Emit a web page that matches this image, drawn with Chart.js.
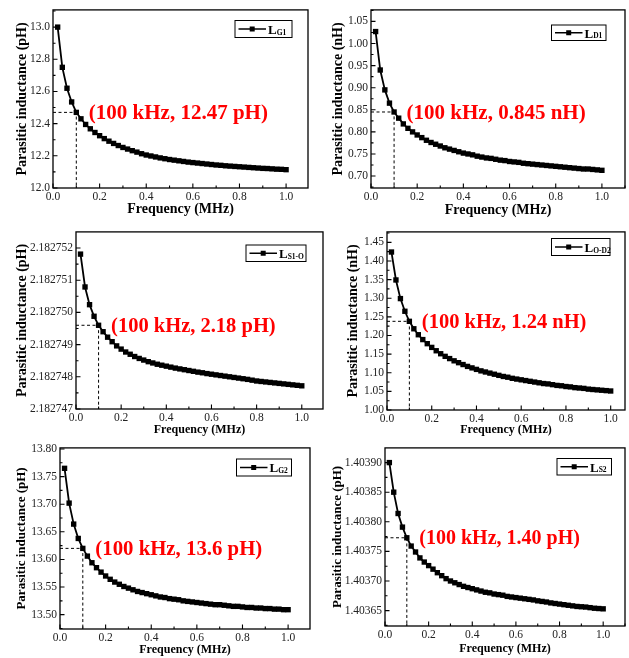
<!DOCTYPE html>
<html>
<head>
<meta charset="utf-8">
<script src="https://cdn.jsdelivr.net/npm/chart.js@4.4.1/dist/chart.umd.min.js"></script>
<style>
  body { margin: 0; background: #fff; }
  #wrap { position: relative; width: 629px; height: 658px; overflow: hidden; }
  canvas { position: absolute; }
</style>
</head>
<body>
<div id="wrap"></div>
<script>
// frecuencias (MHz)
const freq = [0.02, 0.04, 0.06, 0.08, 0.10, 0.12, 0.14, 0.16, 0.18, 0.20,
  0.22, 0.24, 0.26, 0.28, 0.30, 0.32, 0.34, 0.36, 0.38, 0.40,
  0.42, 0.44, 0.46, 0.48, 0.50, 0.52, 0.54, 0.56, 0.58, 0.60,
  0.62, 0.64, 0.66, 0.68, 0.70, 0.72, 0.74, 0.76, 0.78, 0.80,
  0.82, 0.84, 0.86, 0.88, 0.90, 0.92, 0.94, 0.96, 0.98, 1.00];

// series
const lG1 = [13.000, 12.750, 12.620, 12.535, 12.470, 12.430, 12.395, 12.368, 12.345, 12.325,
  12.307, 12.291, 12.277, 12.264, 12.252, 12.242, 12.232, 12.223, 12.213, 12.205,
  12.199, 12.193, 12.187, 12.182, 12.177, 12.173, 12.169, 12.165, 12.161, 12.158,
  12.155, 12.152, 12.149, 12.146, 12.143, 12.141, 12.138, 12.136, 12.134, 12.132,
  12.130, 12.128, 12.126, 12.124, 12.122, 12.121, 12.119, 12.117, 12.116, 12.114];
const lD1 = [1.027, 0.940, 0.895, 0.865, 0.845, 0.831, 0.818, 0.808, 0.800, 0.793,
  0.787, 0.781, 0.776, 0.772, 0.768, 0.764, 0.761, 0.758, 0.755, 0.752,
  0.750, 0.748, 0.745, 0.743, 0.741, 0.740, 0.738, 0.736, 0.735, 0.733,
  0.732, 0.731, 0.729, 0.728, 0.727, 0.726, 0.725, 0.724, 0.723, 0.722,
  0.721, 0.720, 0.719, 0.718, 0.717, 0.716, 0.716, 0.715, 0.714, 0.713];
const lS1O = [2.18275181, 2.18275079, 2.18275024, 2.18274988, 2.18274960, 2.18274940, 2.18274923, 2.18274909, 2.18274896, 2.18274886,
  2.18274877, 2.18274870, 2.18274863, 2.18274857, 2.18274852, 2.18274847, 2.18274843, 2.18274839, 2.18274836, 2.18274833,
  2.18274830, 2.18274827, 2.182748245, 2.18274822, 2.182748195, 2.18274817, 2.182748145, 2.182748125, 2.18274810, 2.18274808,
  2.18274806, 2.18274804, 2.18274802, 2.18274800, 2.18274798, 2.18274796, 2.18274794, 2.18274792, 2.182747895, 2.18274787,
  2.182747855, 2.18274784, 2.182747825, 2.18274781, 2.182747795, 2.18274778, 2.182747765, 2.18274775, 2.182747735, 2.18274772];
const lOD2 = [1.424, 1.349, 1.299, 1.265, 1.238, 1.218, 1.202, 1.189, 1.178, 1.168,
  1.159, 1.151, 1.144, 1.138, 1.132, 1.127, 1.122, 1.117, 1.113, 1.109,
  1.105, 1.102, 1.099, 1.096, 1.093, 1.090, 1.088, 1.085, 1.083, 1.081,
  1.079, 1.077, 1.075, 1.073, 1.071, 1.070, 1.068, 1.066, 1.065, 1.063,
  1.062, 1.060, 1.059, 1.058, 1.056, 1.055, 1.054, 1.053, 1.052, 1.051];
const lG2 = [13.765, 13.702, 13.664, 13.638, 13.620, 13.606, 13.594, 13.585, 13.577, 13.570,
  13.564, 13.559, 13.555, 13.551, 13.548, 13.545, 13.542, 13.540, 13.538, 13.536,
  13.534, 13.532, 13.531, 13.529, 13.528, 13.527, 13.525, 13.524, 13.523, 13.522,
  13.521, 13.520, 13.519, 13.518, 13.518, 13.517, 13.516, 13.515, 13.515, 13.514,
  13.513, 13.513, 13.512, 13.512, 13.511, 13.511, 13.510, 13.510, 13.509, 13.509];
const lS2 = [1.403900, 1.403850, 1.403814, 1.403791, 1.403773, 1.403759, 1.403749, 1.403739, 1.403732, 1.403726,
  1.403720, 1.403714, 1.403709, 1.403704, 1.403700, 1.403697, 1.403694, 1.403691, 1.403689, 1.403687,
  1.403685, 1.403683, 1.403681, 1.403680, 1.403678, 1.403677, 1.403676, 1.403674, 1.403673, 1.403672,
  1.403671, 1.403670, 1.403669, 1.403668, 1.4036665, 1.4036655, 1.4036645, 1.403663, 1.403662, 1.403661,
  1.403660, 1.403659, 1.403658, 1.403657, 1.4036565, 1.403656, 1.403655, 1.403654, 1.4036535, 1.403653];

// marcas de los ejes
const xTicks = [0.0, 0.2, 0.4, 0.6, 0.8, 1.0];
const yTicksG1 = [12.0, 12.2, 12.4, 12.6, 12.8, 13.0];
const yTicksD1 = [0.70, 0.75, 0.80, 0.85, 0.90, 0.95, 1.00, 1.05];
const yTicksS1O = [2.182747, 2.182748, 2.182749, 2.182750, 2.182751, 2.182752];
const yTicksOD2 = [1.00, 1.05, 1.10, 1.15, 1.20, 1.25, 1.30, 1.35, 1.40, 1.45];
const yTicksG2 = [13.50, 13.55, 13.60, 13.65, 13.70, 13.75, 13.80];
const yTicksS2 = [1.40365, 1.40370, 1.40375, 1.40380, 1.40385, 1.40390];

// textos
const legendSubs = ['G1', 'D1', 'S1-O', 'O-D2', 'G2', 'S2'];
const units = ['pH', 'nH', 'pH', 'nH', 'pH', 'pH'];
const notes = ['(100 kHz, 12.47 pH)', '(100 kHz, 0.845 nH)', '(100 kHz, 2.18 pH)',
  '(100 kHz, 1.24 nH)', '(100 kHz, 13.6 pH)', '(100 kHz, 1.40 pH)'];

const FONT = '"Liberation Serif", "Times New Roman", serif';

// geometria de cada panel (coordenadas de pagina)
const paneles = [
  { vals: lG1, yTicks: yTicksG1, dec: 1, ymin: 12.0, ymax: 13.107, xmax: 1.094,
    canvas: [0, 0, 318, 222], plot: [53, 5, 308, 188], yc: 22, xc: 209, ty: 14, tx: 14,
    legend: [235, 20.5, 292, 37.5], noteSize: 21 },
  { vals: lD1, yTicks: yTicksD1, dec: 2, ymin: 0.673, ymax: 1.076, xmax: 1.10,
    canvas: [318, 0, 311, 222], plot: [371, 5, 627, 188], yc: 338, xc: 210, ty: 14, tx: 14,
    legend: [551.5, 25, 606, 40.5], noteSize: 21 },
  { vals: lS1O, yTicks: yTicksS1O, dec: 6, ymin: 2.182747, ymax: 2.1827525, xmax: 1.094,
    canvas: [0, 222, 330, 216], plot: [76, 227, 323, 409], yc: 22, xc: 430, ty: 14, tx: 12,
    legend: [246, 245, 306, 261.5], noteSize: 20.5 },
  { vals: lOD2, yTicks: yTicksOD2, dec: 2, ymin: 1.00, ymax: 1.478, xmax: 1.064,
    canvas: [330, 222, 299, 216], plot: [387, 224, 625, 410], yc: 353, xc: 430, ty: 14, tx: 12,
    legend: [551.5, 238.5, 610, 255.5], noteSize: 20.5 },
  { vals: lG2, yTicks: yTicksG2, dec: 2, ymin: 13.474, ymax: 13.802, xmax: 1.096,
    canvas: [0, 438, 318, 220], plot: [60, 444, 310, 629], yc: 22, xc: 650, ty: 13, tx: 12,
    legend: [236.5, 459, 291.5, 476], noteSize: 20.8 },
  { vals: lS2, yTicks: yTicksS2, dec: 5, ymin: 1.403624, ymax: 1.4039248, xmax: 1.10,
    canvas: [318, 438, 311, 220], plot: [385, 444, 626, 626], yc: 338, xc: 649, ty: 13, tx: 12,
    legend: [557, 458.5, 611.5, 475], noteSize: 20 }
];

// marco, marcas hacia dentro, leyenda y anotacion
const decoracion = {
  id: 'decoracion',
  afterDraw(chart, args, opts) {
    const p = opts.panel;
    const ctx = chart.ctx;
    const a = chart.chartArea;
    const xs = chart.scales.x, ys = chart.scales.y;
    const ox = p.canvas[0], oy = p.canvas[1];
    ctx.save();
    ctx.strokeStyle = '#000';
    ctx.lineWidth = 1.3;
    ctx.strokeRect(a.left, a.top, a.right - a.left, a.bottom - a.top);

    ctx.lineWidth = 1.1;
    ctx.beginPath();
    xTicks.forEach(v => {
      const px = xs.getPixelForValue(v);
      ctx.moveTo(px, a.bottom); ctx.lineTo(px, a.bottom - 4.5);
    });
    for (let v = 0.1; v < p.xmax; v += 0.2) {
      const px = xs.getPixelForValue(v);
      ctx.moveTo(px, a.bottom); ctx.lineTo(px, a.bottom - 2.5);
    }
    p.yTicks.forEach(v => {
      const py = ys.getPixelForValue(v);
      ctx.moveTo(a.left, py); ctx.lineTo(a.left + 4.5, py);
    });
    const paso = p.yTicks[1] - p.yTicks[0];
    for (let i = -1; i < p.yTicks.length; i++) {
      const v = p.yTicks[0] + paso * (i + 0.5);
      if (v <= p.ymin || v >= p.ymax) continue;
      const py = ys.getPixelForValue(v);
      ctx.moveTo(a.left, py); ctx.lineTo(a.left + 2.5, py);
    }
    ctx.stroke();

    // leyenda
    const [l, t, r, b] = p.legend.map((v, i) => v - (i % 2 ? oy : ox));
    ctx.lineWidth = 1;
    ctx.strokeRect(l, t, r - l, b - t);
    const my = (t + b) / 2;
    ctx.lineWidth = 1.5;
    ctx.beginPath();
    ctx.moveTo(l + 3.5, my); ctx.lineTo(l + 31, my);
    ctx.stroke();
    ctx.fillStyle = '#000';
    ctx.fillRect(l + 17.2 - 2.5, my - 2.5, 5, 5);
    ctx.textBaseline = 'alphabetic';
    ctx.textAlign = 'left';
    ctx.font = 'bold 13px ' + FONT;
    ctx.fillText('L', l + 33, my + 4.8);
    const wL = ctx.measureText('L').width;
    ctx.font = 'bold 7.5px ' + FONT;
    ctx.fillText(p.sub, l + 33 + wL, my + 5.5);

    // anotacion en 100 kHz
    const px = xs.getPixelForValue(0.1), py = ys.getPixelForValue(p.vals[4]);
    ctx.fillStyle = '#ff0000';
    ctx.font = 'bold ' + p.noteSize + 'px ' + FONT;
    ctx.textBaseline = 'middle';
    ctx.fillText(p.note, px + 12.5, py + 1.5);
    ctx.restore();
  }
};

const wrap = document.getElementById('wrap');

paneles.forEach((p, k) => {
  p.sub = legendSubs[k];
  p.note = notes[k];
  const [cl, ct, cw, ch] = p.canvas;
  const [pl, pt, pr, pb] = p.plot;
  const canvas = document.createElement('canvas');
  canvas.width = cw; canvas.height = ch;
  canvas.style.left = cl + 'px'; canvas.style.top = ct + 'px';
  canvas.style.width = cw + 'px'; canvas.style.height = ch + 'px';
  wrap.appendChild(canvas);

  const puntos = freq.map((f, i) => ({ x: f, y: p.vals[i] }));
  const guia = [{ x: 0, y: p.vals[4] }, { x: 0.1, y: p.vals[4] }, { x: 0.1, y: p.ymin }];

  new Chart(canvas, {
    type: 'line',
    data: {
      datasets: [
        { data: guia, borderColor: '#000', borderWidth: 1, borderDash: [3, 2.5],
          pointRadius: 0, fill: false },
        { data: puntos, borderColor: '#000', borderWidth: 1.8, pointStyle: 'rect',
          pointRadius: 3.8, pointBackgroundColor: '#000', pointBorderWidth: 0, fill: false }
      ]
    },
    options: {
      responsive: false,
      animation: false,
      events: [],
      layout: { padding: { left: 0, bottom: 0, top: pt - ct, right: cl + cw - pr } },
      plugins: {
        legend: { display: false },
        tooltip: { enabled: false },
        decoracion: { panel: p }
      },
      scales: {
        x: {
          type: 'linear', min: 0, max: p.xmax,
          grid: { display: false, drawTicks: false },
          border: { display: false },
          afterBuildTicks: s => { s.ticks = xTicks.map(v => ({ value: v })); },
          afterFit: s => { s.height = ct + ch - pb; },
          ticks: { autoSkip: false, maxRotation: 0, padding: 2.5, color: '#222',
            font: { family: FONT, size: 11.5 }, callback: v => v.toFixed(1) },
          title: { display: true, text: 'Frequency (MHz)', color: '#000',
            font: { family: FONT, size: p.tx, weight: 'bold' },
            padding: { top: 0, bottom: ct + ch - p.xc - p.tx * 0.6 } }
        },
        y: {
          type: 'linear', min: p.ymin, max: p.ymax,
          grid: { display: false, drawTicks: false },
          border: { display: false },
          afterBuildTicks: s => { s.ticks = p.yTicks.map(v => ({ value: v })); },
          afterFit: s => { s.width = pl - cl; },
          ticks: { autoSkip: false, padding: 3, color: '#222',
            font: { family: FONT, size: 11.5 }, callback: v => v.toFixed(p.dec) },
          title: { display: true, text: 'Parasitic inductance (' + units[k] + ')', color: '#000',
            font: { family: FONT, size: p.ty, weight: 'bold' },
            padding: { top: p.yc - cl - p.ty * 0.6, bottom: 0 } }
        }
      }
    },
    plugins: [decoracion]
  });
});
</script>
</body>
</html>
